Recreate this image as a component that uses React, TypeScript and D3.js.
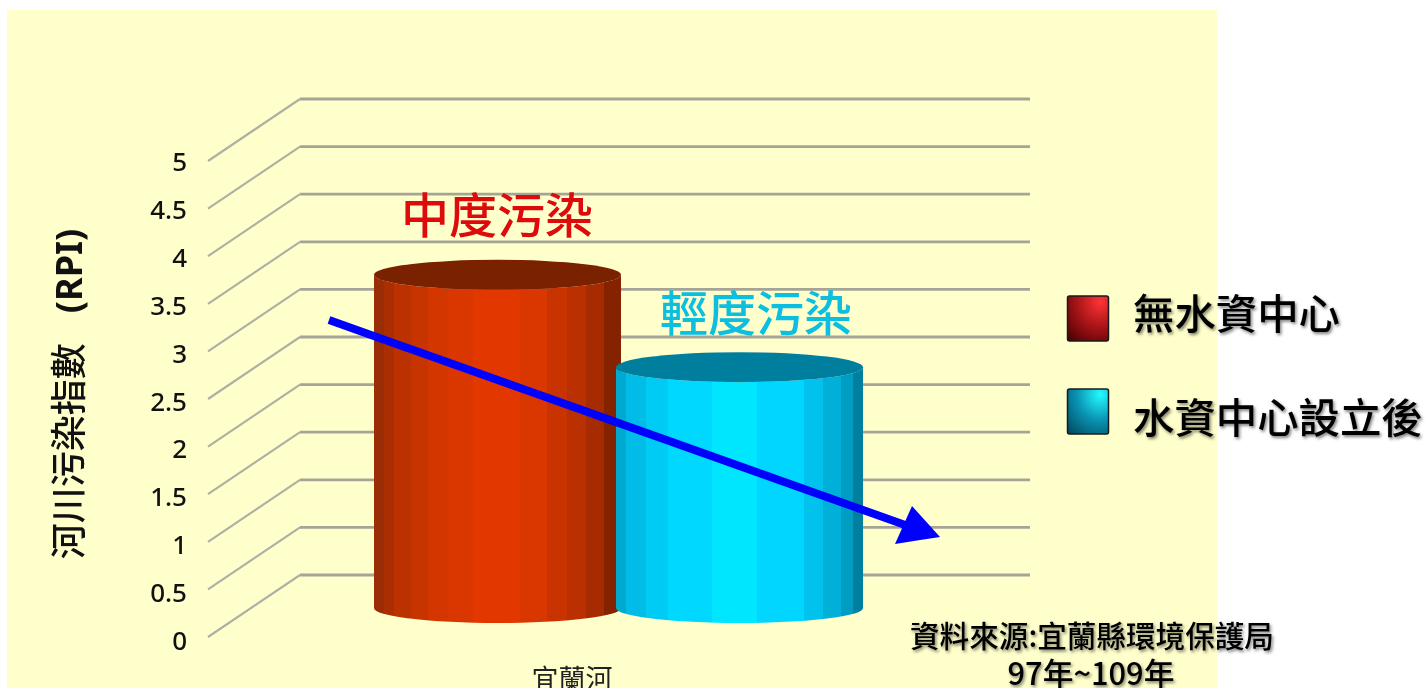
import React from "react";
import * as d3 from "d3";

const ticks = [0, 0.5, 1, 1.5, 2, 2.5, 3, 3.5, 4, 4.5, 5];
const categories = ["宜蘭河"];
const seriesNames = ["無水資中心", "水資中心設立後"];
const seriesValues = [3.5, 2.53];
const severityLabels = ["中度污染", "輕度污染"];

const CJK = '"Noto Sans CJK TC", "Noto Sans", sans-serif';
const LATIN = '"Noto Sans", "Open Sans", sans-serif';

// [fraction of width where the stripe ends, colour]
const redStripes: [number, string][] = [
  [0.04, "#9a2c06"], [0.08, "#ab2e02"], [0.15, "#bb3200"], [0.22, "#c83400"],
  [0.30, "#d43600"], [0.40, "#da3700"], [0.59, "#e23800"], [0.70, "#da3600"],
  [0.78, "#c93300"], [0.86, "#bb3000"], [0.93, "#a62b00"], [1, "#852200"],
];
const blueStripes: [number, string][] = [
  [0.04, "#00a9d0"], [0.12, "#00bce6"], [0.21, "#00cbf4"], [0.39, "#00d8ff"],
  [0.57, "#00e6ff"], [0.76, "#00d6ff"], [0.84, "#00c2ec"], [0.91, "#00b0d8"],
  [0.96, "#009dc2"], [1, "#007f9f"],
];
const capColors = ["#7a2100", "#007e9e"];

function stepStops(stripes: [number, string][]) {
  const out: { o: number; c: string }[] = [];
  let prev = 0;
  for (const [end, c] of stripes) {
    out.push({ o: prev, c }, { o: end, c });
    prev = end;
  }
  return out;
}

const tickY = d3.scaleLinear().domain([0, 5]).range([637, 161]);
const tickLabelY = d3.scaleLinear().domain([0, 5]).range([650, 171]);
const depthDx = 92;
const depthDy = -62;
const frontX = 208;
const backRight = 1030;
const baseY = d3.scaleLinear().domain([0, 5]).range([608, 132]);
const barX = d3.scalePoint<string>().domain(seriesNames).range([497.5, 739.5]);
const rx = 123.5;
const ry = 15;

const LegendSwatch = ({ y, id }: { y: number; id: string }) => (
  <rect x={1067.5} y={y} width={41} height={45} rx={2} fill={`url(#${id})`} stroke="#1a1a1a" strokeWidth={1.5} />
);

export default function App() {
  const grid = d3.line<[number, number]>();
  return (
    <svg width={1427} height={688} style={{ position: "absolute", left: 0, top: 0, display: "block" }}>
      <defs>
        <linearGradient id="side0" x1="0" x2="1" y1="0" y2="0">
          {stepStops(redStripes).map((s, i) => <stop key={i} offset={s.o} stopColor={s.c} />)}
        </linearGradient>
        <linearGradient id="side1" x1="0" x2="1" y1="0" y2="0">
          {stepStops(blueStripes).map((s, i) => <stop key={i} offset={s.o} stopColor={s.c} />)}
        </linearGradient>
        <radialGradient id="leg0" cx="0.8" cy="0.12" r="1.15">
          <stop offset="0" stopColor="#ff3436" />
          <stop offset="0.5" stopColor="#a81418" />
          <stop offset="1" stopColor="#4a0000" />
        </radialGradient>
        <radialGradient id="leg1" cx="0.8" cy="0.12" r="1.15">
          <stop offset="0" stopColor="#22fbff" />
          <stop offset="0.5" stopColor="#0a93b4" />
          <stop offset="1" stopColor="#004a5c" />
        </radialGradient>
        <filter id="shadow" x="-5%" y="-20%" width="110%" height="140%">
          <feDropShadow dx="1.5" dy="2" stdDeviation="1.4" floodColor="#000" floodOpacity="0.5" />
        </filter>
        <filter id="soft" x="0" y="0" width="100%" height="100%" filterUnits="userSpaceOnUse" primitiveUnits="userSpaceOnUse">
          <feGaussianBlur stdDeviation="0.45" />
        </filter>
      </defs>

      <rect x={7} y={10} width={1210} height={678} fill="#ffffcc" />

      <g style={{ filter: "blur(0.45px)" }}>
        {ticks.map((t) => {
          const y = tickY(t);
          return (
            <g key={t}>
              <path d={grid([[frontX, y], [frontX + depthDx, y + depthDy]])!} fill="none" stroke="#b0b0a2" strokeWidth={2.2} />
              <path d={grid([[frontX + depthDx, y + depthDy], [backRight, y + depthDy]])!} fill="none" stroke="#a5a597" strokeWidth={2.8} />
              <text x={187} y={tickLabelY(t)} textAnchor="end" fontFamily={LATIN} fontSize={26} fontWeight={500} fill="#111">{t}</text>
            </g>
          );
        })}

        {seriesNames.map((name, i) => {
          const cx = barX(name)!;
          const top = baseY(seriesValues[i]);
          const base = baseY(0);
          const side = `M${cx - rx},${top}L${cx - rx},${base}A${rx},${ry} 0 0 0 ${cx + rx},${base}L${cx + rx},${top}A${rx},${ry} 0 0 1 ${cx - rx},${top}Z`;
          return (
            <g key={name}>
              <path d={side} fill={`url(#side${i})`} />
              <ellipse cx={cx} cy={top} rx={rx} ry={ry} fill={capColors[i]} />
            </g>
          );
        })}

        <line x1={329} y1={320} x2={908} y2={526} stroke="#0000ff" strokeWidth={8} />
        <polygon points="912,506 895,544 940,537" fill="#0000ff" />

        <text x={497} y={233} textAnchor="middle" fontFamily={CJK} fontSize={48} fontWeight={500} fill="#dd0b0b">{severityLabels[0]}</text>
        <text x={756} y={331} textAnchor="middle" fontFamily={CJK} fontSize={48} fontWeight={500} fill="#0cbfe0">{severityLabels[1]}</text>

        <text transform="translate(82,394) rotate(-90)" textAnchor="middle" fontFamily={CJK} fontSize={36} fontWeight={500} fill="#111">
          河川污染指數<tspan dx={30} fontFamily={LATIN} fontWeight={700} fontSize={36}>(RPI)</tspan>
        </text>

        <text x={572} y={689} textAnchor="middle" fontFamily={CJK} fontSize={27} fill="#222">{categories[0]}</text>

        <LegendSwatch y={296} id="leg0" />
        <LegendSwatch y={389} id="leg1" />
        <g filter="url(#shadow)">
          <text x={1133} y={329} fontFamily={CJK} fontSize={41.4} fontWeight={500} fill="#000">{seriesNames[0]}</text>
          <text x={1133} y={433} fontFamily={CJK} fontSize={41.4} fontWeight={500} fill="#000">{seriesNames[1]}</text>
          <text x={1092} y={647} textAnchor="middle" fontFamily={CJK} fontSize={29.6} fontWeight={500} fill="#000">資料來源:宜蘭縣環境保護局</text>
          <text x={1091} y={685} textAnchor="middle" fontFamily={CJK} fontSize={30.8} fontWeight={500} fill="#000">97年~109年</text>
        </g>
      </g>
    </svg>
  );
}
